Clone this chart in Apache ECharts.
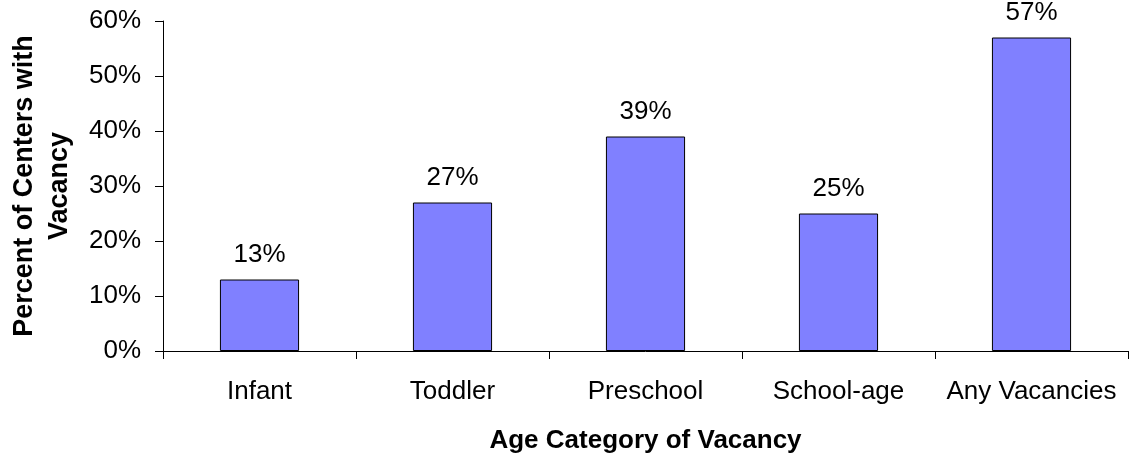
<!DOCTYPE html>
<html>
<head>
<meta charset="utf-8">
<script src="https://cdn.jsdelivr.net/npm/echarts@6/dist/echarts.min.js"></script>
<style>
  html, body { margin: 0; padding: 0; background: #fff; }
  #main { width: 1129px; height: 458px; }
</style>
</head>
<body>
<div id="main"></div>
<script>
// 数据
var categories = ["Infant", "Toddler", "Preschool", "School-age", "Any Vacancies"];
var values = [13, 27, 39, 25, 57];

var font = "'Liberation Sans', Arial, sans-serif";
var myChart = echarts.init(document.getElementById("main"));

var option = {
  animation: false,
  grid: {
    left: 163,
    right: 1,
    top: 21,
    bottom: 107,
    containLabel: false,
    outerBoundsMode: "none"
  },
  xAxis: {
    type: "category",
    data: categories,
    name: "Age Category of Vacancy",
    nameLocation: "middle",
    nameGap: 77,
    nameTextStyle: { fontFamily: font, fontSize: 26, fontWeight: "bold", color: "#000" },
    axisLine: { lineStyle: { color: "#000", width: 1 } },
    axisTick: { show: true, length: 8, lineStyle: { color: "#000" } },
    axisLabel: { interval: 0, margin: 28, fontFamily: font, fontSize: 26, color: "#000" }
  },
  yAxis: {
    type: "value",
    min: 0,
    max: 60,
    interval: 10,
    name: "Percent of Centers with\nVacancy",
    nameLocation: "middle",
    nameGap: 86,
    nameTextStyle: { fontFamily: font, fontSize: 27, fontWeight: "bold", color: "#000", lineHeight: 35 },
    axisLine: { show: true, lineStyle: { color: "#000", width: 1 } },
    axisTick: { show: true, length: 8, lineStyle: { color: "#000" } },
    splitLine: { show: false },
    axisLabel: {
      margin: 22,
      fontFamily: font,
      fontSize: 26,
      color: "#000",
      formatter: function (v) { return v + "%"; }
    }
  },
  series: [
    {
      type: "bar",
      data: values,
      barWidth: "41%",
      itemStyle: { color: "#8080FF", borderColor: "#000", borderWidth: 1 },
      label: {
        show: true,
        position: "top",
        distance: 12,
        fontFamily: font,
        fontSize: 26,
        color: "#000",
        formatter: function (p) { return p.value + "%"; }
      }
    }
  ]
};

myChart.setOption(option);
</script>
</body>
</html>
